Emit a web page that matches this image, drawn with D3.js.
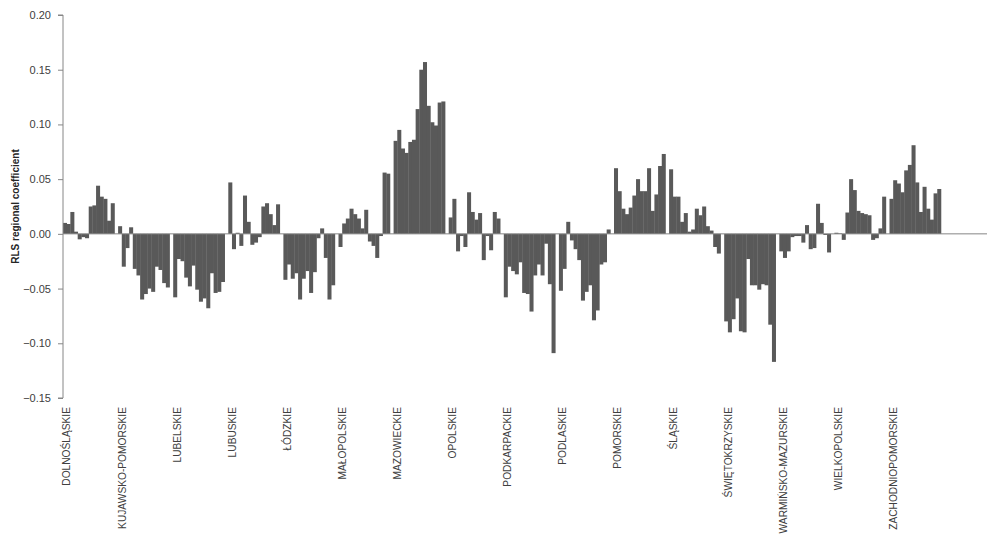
<!DOCTYPE html>
<html>
<head>
<meta charset="utf-8">
<script src="https://cdn.jsdelivr.net/npm/d3@7"></script>
<style>
  html, body { margin: 0; padding: 0; background: #fff; }
  svg { display: block; }
</style>
</head>
<body>
<svg id="chart" width="987" height="539"></svg>
<script>
// Voivodeships, in axis order
const regions = [
  "DOLNOŚLĄSKIE", "KUJAWSKO-POMORSKIE", "LUBELSKIE", "LUBUSKIE", "ŁÓDZKIE",
  "MAŁOPOLSKIE", "MAZOWIECKIE", "OPOLSKIE", "PODKARPACKIE", "PODLASKIE",
  "POMORSKIE", "ŚLĄSKIE", "ŚWIĘTOKRZYSKIE", "WARMIŃSKO-MAZURSKIE",
  "WIELKOPOLSKIE", "ZACHODNIOPOMORSKIE"
];

// RLS regional coefficient, 14 consecutive periods per voivodeship
const dolnoslaskie       = [0.010, 0.009, 0.020, 0.002, -0.005, -0.003, -0.004, 0.025, 0.026, 0.044, 0.034, 0.032, 0.012, 0.028];
const kujawskoPomorskie  = [0.007, -0.030, -0.013, 0.006, -0.032, -0.038, -0.060, -0.055, -0.050, -0.053, -0.030, -0.033, -0.045, -0.049];
const lubelskie          = [-0.058, -0.023, -0.025, -0.040, -0.048, -0.029, -0.051, -0.062, -0.059, -0.068, -0.036, -0.054, -0.053, -0.044];
const lubuskie           = [0.047, -0.014, 0.001, -0.011, 0.035, 0.011, -0.010, -0.008, -0.003, 0.025, 0.028, 0.018, 0.008, 0.027];
const lodzkie            = [-0.042, -0.028, -0.041, -0.036, -0.060, -0.041, -0.034, -0.054, -0.035, -0.004, 0.005, -0.022, -0.060, -0.047];
const malopolskie        = [-0.012, 0.0095, 0.014, 0.023, 0.018, 0.014, 0.005, 0.022, -0.007, -0.011, -0.022, -0.002, 0.056, 0.055];
const mazowieckie        = [0.085, 0.095, 0.078, 0.074, 0.084, 0.086, 0.114, 0.150, 0.157, 0.117, 0.102, 0.099, 0.120, 0.121];
const opolskie           = [0.015, 0.032, -0.016, -0.002, -0.012, 0.038, 0.020, 0.013, 0.019, -0.024, -0.002, -0.015, 0.020, 0.014];
const podkarpackie       = [-0.058, -0.030, -0.034, -0.037, -0.026, -0.054, -0.055, -0.071, -0.038, -0.028, -0.038, -0.009, -0.046, -0.109];
const podlaskie          = [-0.052, -0.032, 0.011, -0.006, -0.014, -0.024, -0.061, -0.053, -0.047, -0.079, -0.070, -0.028, -0.026, 0.004];
const pomorskie          = [0.060, 0.039, 0.023, 0.018, 0.024, 0.035, 0.050, 0.039, 0.039, 0.060, 0.021, 0.036, 0.062, 0.073];
const slaskie            = [0.059, 0.034, 0.034, 0.011, 0.019, 0.002, 0.004, 0.023, 0.017, 0.025, 0.007, 0.003, -0.012, -0.018];
const swietokrzyskie     = [-0.080, -0.090, -0.078, -0.059, -0.089, -0.090, -0.023, -0.047, -0.047, -0.051, -0.046, -0.047, -0.083, -0.117];
const warminskoMazurskie = [-0.016, -0.022, -0.016, -0.003, -0.002, -0.002, -0.008, 0.008, -0.014, -0.013, 0.0275, 0.010, -0.001, -0.017];
const wielkopolskie      = [0.001, 0.0005, -0.0055, 0.0195, 0.050, 0.040, 0.021, 0.019, 0.018, 0.017, -0.0055, -0.004, 0.005, 0.034];
const zachodniopomorskie = [0.032, 0.049, 0.046, 0.038, 0.058, 0.063, 0.081, 0.047, 0.020, 0.043, 0.023, 0.013, 0.037, 0.041];

const seriesByRegion = [
  dolnoslaskie, kujawskoPomorskie, lubelskie, lubuskie, lodzkie, malopolskie,
  mazowieckie, opolskie, podkarpackie, podlaskie, pomorskie, slaskie,
  swietokrzyskie, warminskoMazurskie, wielkopolskie, zachodniopomorskie
];

const yTicks = [-0.15, -0.10, -0.05, 0.00, 0.05, 0.10, 0.15, 0.20];

// Each voivodeship takes its periods plus one empty slot; the axis runs on past the last group
const slotsPerRegion = 15;
const totalSlots = 17 * slotsPerRegion;

const bars = [];
seriesByRegion.forEach((vals, r) => {
  vals.forEach((v, i) => bars.push({ slot: r * slotsPerRegion + i, value: v, region: regions[r] }));
});

const svg = d3.select("#chart");
const plotLeft = 63, plotTop = 15, plotBottom = 398;
const slotW = 55.1 / slotsPerRegion;

const x = d3.scaleBand()
  .domain(d3.range(totalSlots))
  .range([plotLeft, plotLeft + totalSlots * slotW])
  .paddingInner(0).paddingOuter(0);

const y = d3.scaleLinear().domain([-0.15, 0.20]).range([plotBottom, plotTop]);

// Bars
svg.append("g")
  .selectAll("rect")
  .data(bars)
  .join("rect")
  .attr("x", d => x(d.slot))
  .attr("width", x.bandwidth() + 0.35)
  .attr("y", d => Math.min(y(d.value), y(0)))
  .attr("height", d => Math.abs(y(d.value) - y(0)))
  .attr("fill", "#595959");

// Y axis
const yAxis = d3.axisLeft(y)
  .tickValues(yTicks)
  .tickSize(5)
  .tickPadding(7)
  .tickFormat(d3.format(".2f"));

const gy = svg.append("g")
  .attr("transform", `translate(${plotLeft},0)`)
  .call(yAxis);
gy.select(".domain").attr("stroke", "#868686").attr("d", `M-5,${plotTop}H0V${plotBottom}H-5`);
gy.selectAll(".tick line").attr("stroke", "#868686");
gy.selectAll(".tick text")
  .attr("fill", "#404040")
  .style("font-family", "'Liberation Sans', Arial, sans-serif")
  .style("font-size", "11px");

// Category axis along the zero line
svg.append("line")
  .attr("x1", plotLeft).attr("x2", plotLeft + totalSlots * slotW)
  .attr("y1", y(0)).attr("y2", y(0))
  .attr("stroke", "#868686").attr("stroke-width", 1);

// Voivodeship labels, at the first slot of each group
svg.append("g")
  .selectAll("text")
  .data(regions)
  .join("text")
  .attr("transform", (d, i) => `translate(${x(i * slotsPerRegion) + x.bandwidth() / 2 + 2},${plotBottom + 9}) rotate(-90)`)
  .attr("dy", "0.35em")
  .attr("text-anchor", "end")
  .attr("fill", "#404040")
  .style("font-family", "'Liberation Sans', Arial, sans-serif")
  .style("font-size", "10.2px")
  .text(d => d);

// Y axis title
svg.append("text")
  .attr("transform", `translate(15,${(plotTop + plotBottom) / 2}) rotate(-90)`)
  .attr("dy", "0.35em")
  .attr("text-anchor", "middle")
  .attr("fill", "#262626")
  .style("font-family", "'Liberation Sans', Arial, sans-serif")
  .style("font-size", "10px")
  .style("font-weight", "bold")
  .text("RLS regional coefficient");
</script>
</body>
</html>
